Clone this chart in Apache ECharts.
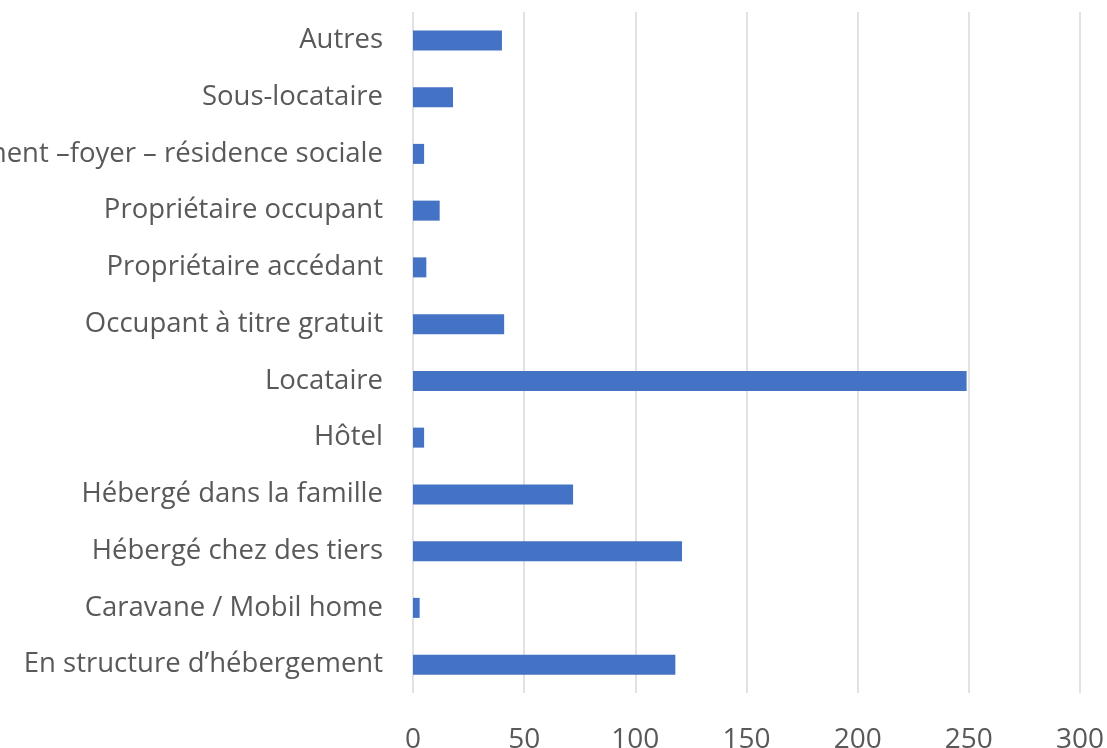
<!DOCTYPE html>
<html>
<head>
<meta charset="utf-8">
<script src="https://cdn.jsdelivr.net/npm/echarts@6/dist/echarts.min.js"></script>
<style>
html, body { margin: 0; padding: 0; background: #fff; }
#chart { width: 1107px; height: 748px; }
</style>
</head>
<body>
<div id="chart"></div>
<script>
// categories, bottom to top
var categories = [
    "En structure d\u2019hébergement",
    "Caravane / Mobil home",
    "Hébergé chez des tiers",
    "Hébergé dans la famille",
    "Hôtel",
    "Locataire",
    "Occupant à titre gratuit",
    "Propriétaire accédant",
    "Propriétaire occupant",
    "Logement \u2013foyer \u2013 résidence sociale",
    "Sous-locataire",
    "Autres"
];
var values = [118, 3, 121, 72, 5, 249, 41, 6, 12, 5, 18, 40];

var chart = echarts.init(document.getElementById("chart"));
chart.setOption({
    animation: false,
    grid: { left: 413, right: 27, top: 12, bottom: 55, containLabel: false, outerBoundsMode: 'none' },
    xAxis: {
        type: 'value',
        min: 0,
        max: 300,
        interval: 50,
        axisLine: { show: false },
        axisTick: { show: false },
        axisLabel: {
            margin: 33,
            fontSize: 28,
            color: '#595959',
            fontFamily: 'Open Sans'
        },
        splitLine: { lineStyle: { color: '#d9d9d9', width: 1.5 } }
    },
    yAxis: {
        type: 'category',
        data: categories,
        axisLine: { show: false },
        axisTick: { show: false },
        axisLabel: {
            margin: 30,
            fontSize: 27.5,
            color: '#595959',
            fontFamily: 'Open Sans',
            padding: [4, 0, 0, 0]
        }
    },
    series: [{
        type: 'bar',
        data: values,
        barWidth: 20,
        itemStyle: { color: '#4472c4' }
    }]
});
</script>
</body>
</html>
